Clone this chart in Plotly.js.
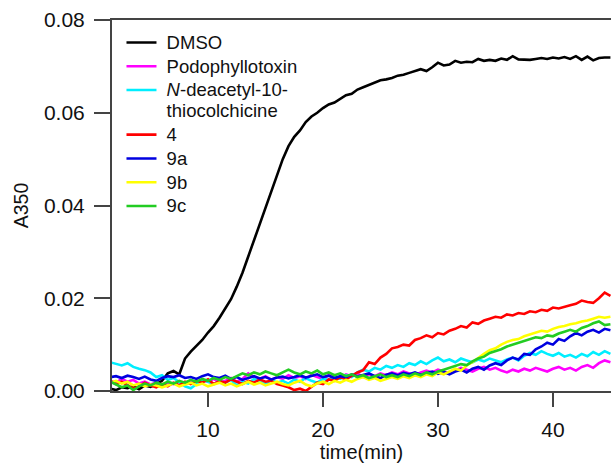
<!DOCTYPE html>
<html>
<head>
<meta charset="utf-8">
<script src="https://cdn.plot.ly/plotly-3.0.1.min.js"></script>
<style>html,body{margin:0;padding:0;background:#fff;}#chart{width:611px;height:463px;}</style>
</head>
<body>
<div id="chart"></div>
<script>
var time = [1.5,2,2.5,3,3.5,4,4.5,5,5.5,6,
  6.5,7,7.5,8,8.5,9,9.5,10,10.5,11,
  11.5,12,12.5,13,13.5,14,14.5,15,15.5,16,
  16.5,17,17.5,18,18.5,19,19.5,20,20.5,21,
  21.5,22,22.5,23,23.5,24,24.5,25,25.5,26,
  26.5,27,27.5,28,28.5,29,29.5,30,30.5,31,
  31.5,32,32.5,33,33.5,34,34.5,35,35.5,36,
  36.5,37,37.5,38,38.5,39,39.5,40,40.5,41,
  41.5,42,42.5,43,43.5,44,44.5,45];

var dmso = [0.0005,0.0002,0.0008,0.0006,0.0010,0.0004,0.0012,0.0009,0.0015,0.0022,
  0.0038,0.0043,0.0036,0.0070,0.0085,0.0098,0.0110,0.0126,0.0140,0.0158,
  0.0178,0.0198,0.0225,0.0255,0.0290,0.0325,0.0360,0.0398,0.0432,0.0468,
  0.0500,0.0528,0.0548,0.0562,0.0580,0.0592,0.0600,0.0610,0.0618,0.0622,
  0.0630,0.0638,0.0641,0.0650,0.0655,0.0660,0.0664,0.0670,0.0672,0.0675,
  0.0680,0.0682,0.0686,0.0690,0.0694,0.0690,0.0698,0.0708,0.0702,0.0704,
  0.0712,0.0708,0.0710,0.0709,0.0716,0.0712,0.0714,0.0712,0.0717,0.0714,
  0.0722,0.0715,0.0714,0.0714,0.0716,0.0718,0.0716,0.0719,0.0717,0.0720,
  0.0716,0.0722,0.0714,0.0721,0.0713,0.0718,0.0719,0.0719];

var podophyllotoxin = [0.0022,0.0018,0.0026,0.0020,0.0024,0.0016,0.0020,0.0014,0.0018,0.0012,
  0.0018,0.0015,0.0020,0.0016,0.0022,0.0018,0.0024,0.0020,0.0026,0.0018,
  0.0022,0.0028,0.0020,0.0026,0.0038,0.0030,0.0026,0.0032,0.0024,0.0030,
  0.0026,0.0034,0.0028,0.0032,0.0026,0.0035,0.0030,0.0026,0.0034,0.0030,
  0.0028,0.0036,0.0032,0.0038,0.0030,0.0036,0.0032,0.0038,0.0034,0.0040,
  0.0036,0.0042,0.0038,0.0034,0.0040,0.0044,0.0040,0.0046,0.0042,0.0038,
  0.0044,0.0050,0.0046,0.0042,0.0048,0.0052,0.0046,0.0050,0.0044,0.0040,
  0.0046,0.0042,0.0048,0.0044,0.0050,0.0046,0.0042,0.0048,0.0052,0.0046,
  0.0050,0.0044,0.0052,0.0056,0.0050,0.0060,0.0066,0.0062];

var thiocolchicine = [0.0062,0.0058,0.0055,0.0060,0.0052,0.0048,0.0045,0.0040,0.0030,0.0034,
  0.0024,0.0028,0.0018,0.0010,0.0006,0.0016,0.0024,0.0020,0.0015,0.0022,
  0.0018,0.0024,0.0012,0.0020,0.0016,0.0026,0.0020,0.0015,0.0024,0.0018,
  0.0022,0.0016,0.0025,0.0020,0.0028,0.0022,0.0018,0.0026,0.0024,0.0030,
  0.0026,0.0034,0.0030,0.0040,0.0046,0.0042,0.0050,0.0046,0.0054,0.0050,
  0.0056,0.0052,0.0060,0.0056,0.0064,0.0058,0.0066,0.0072,0.0064,0.0068,
  0.0062,0.0070,0.0066,0.0062,0.0068,0.0064,0.0070,0.0066,0.0062,0.0068,
  0.0072,0.0066,0.0076,0.0082,0.0078,0.0086,0.0080,0.0076,0.0082,0.0074,
  0.0078,0.0072,0.0080,0.0075,0.0084,0.0078,0.0086,0.0080];

var c4 = [0.0022,0.0015,0.0020,0.0012,0.0005,0.0010,0.0018,0.0012,0.0008,0.0015,
  0.0010,0.0018,0.0012,0.0020,0.0015,0.0022,0.0018,0.0025,0.0015,0.0022,
  0.0018,0.0025,0.0020,0.0015,0.0022,0.0018,0.0025,0.0020,0.0022,0.0015,
  0.0012,0.0008,0.0002,0.0005,0.0000,0.0010,0.0018,0.0015,0.0025,0.0022,
  0.0030,0.0025,0.0032,0.0040,0.0045,0.0062,0.0058,0.0072,0.0080,0.0092,
  0.0095,0.0100,0.0098,0.0110,0.0114,0.0120,0.0116,0.0125,0.0122,0.0130,
  0.0134,0.0140,0.0137,0.0148,0.0145,0.0152,0.0156,0.0160,0.0158,0.0165,
  0.0163,0.0168,0.0166,0.0172,0.0170,0.0175,0.0173,0.0180,0.0178,0.0182,
  0.0185,0.0188,0.0195,0.0192,0.0190,0.0200,0.0212,0.0205];

var c9a = [0.0030,0.0032,0.0028,0.0033,0.0030,0.0026,0.0031,0.0025,0.0022,0.0028,
  0.0032,0.0030,0.0034,0.0028,0.0030,0.0026,0.0032,0.0036,0.0030,0.0028,
  0.0033,0.0026,0.0030,0.0024,0.0028,0.0032,0.0027,0.0030,0.0025,0.0029,
  0.0031,0.0027,0.0030,0.0034,0.0029,0.0032,0.0036,0.0030,0.0033,0.0028,
  0.0032,0.0030,0.0036,0.0031,0.0034,0.0038,0.0032,0.0028,0.0035,0.0038,
  0.0034,0.0039,0.0036,0.0040,0.0035,0.0038,0.0042,0.0037,0.0041,0.0036,
  0.0042,0.0046,0.0040,0.0048,0.0052,0.0046,0.0055,0.0060,0.0056,0.0066,
  0.0072,0.0068,0.0080,0.0078,0.0090,0.0096,0.0104,0.0100,0.0112,0.0108,
  0.0118,0.0125,0.0120,0.0128,0.0132,0.0126,0.0134,0.0131];

var c9b = [0.0018,0.0022,0.0016,0.0020,0.0012,0.0016,0.0010,0.0014,0.0012,0.0008,
  0.0012,0.0016,0.0010,0.0014,0.0018,0.0012,0.0016,0.0010,0.0014,0.0018,
  0.0012,0.0016,0.0010,0.0015,0.0020,0.0014,0.0018,0.0012,0.0016,0.0020,
  0.0015,0.0012,0.0018,0.0022,0.0014,0.0010,0.0016,0.0020,0.0015,0.0022,
  0.0018,0.0024,0.0020,0.0026,0.0030,0.0024,0.0028,0.0022,0.0026,0.0030,
  0.0026,0.0032,0.0028,0.0034,0.0030,0.0036,0.0032,0.0040,0.0036,0.0042,
  0.0048,0.0044,0.0055,0.0062,0.0072,0.0080,0.0088,0.0092,0.0100,0.0106,
  0.0110,0.0112,0.0118,0.0122,0.0125,0.0130,0.0128,0.0134,0.0138,0.0140,
  0.0144,0.0146,0.0150,0.0152,0.0156,0.0160,0.0158,0.0160];

var c9c = [0.0020,0.0014,0.0008,0.0012,0.0002,0.0010,0.0016,0.0012,0.0018,0.0014,
  0.0020,0.0016,0.0022,0.0018,0.0024,0.0020,0.0026,0.0022,0.0028,0.0024,
  0.0030,0.0026,0.0032,0.0038,0.0034,0.0040,0.0036,0.0042,0.0038,0.0034,
  0.0040,0.0046,0.0040,0.0036,0.0042,0.0038,0.0044,0.0036,0.0040,0.0034,
  0.0038,0.0032,0.0036,0.0030,0.0034,0.0028,0.0032,0.0036,0.0030,0.0034,
  0.0030,0.0036,0.0032,0.0038,0.0034,0.0040,0.0036,0.0042,0.0046,0.0050,
  0.0054,0.0058,0.0056,0.0064,0.0070,0.0074,0.0082,0.0086,0.0090,0.0096,
  0.0100,0.0104,0.0108,0.0112,0.0116,0.0114,0.0120,0.0118,0.0124,0.0128,
  0.0132,0.0128,0.0136,0.0140,0.0146,0.0150,0.0142,0.0144];

var seriesNames = ['DMSO', 'Podophyllotoxin', '<i>N</i>-deacetyl-10-<br>thiocolchicine', '4', '9a', '9b', '9c'];
var seriesData = [dmso, podophyllotoxin, thiocolchicine, c4, c9a, c9b, c9c];
var seriesColors = ['#000000', '#ff00ff', '#00eeff', '#ff0000', '#0000e0', '#ffff00', '#22cc22'];

var xTicks = [10, 20, 30, 40];
var yTicks = [0, 0.02, 0.04, 0.06, 0.08];

function legendLabel(name) {
  return name.split('<br>').map(function (part) {
    return '<span style="font-size:18.5px">\u00a0' + part + '</span>';
  }).join('<br>');
}

var traces = seriesData.map(function (d, i) {
  return {
    x: time, y: d, type: 'scatter', mode: 'lines', name: legendLabel(seriesNames[i]),
    line: {color: seriesColors[i], width: 2.6}
  };
});

var font = 'Arial, "Liberation Sans", sans-serif';
var layout = {
  width: 611, height: 463,
  margin: {l: 112, r: 0, t: 20, b: 72},
  paper_bgcolor: '#fff', plot_bgcolor: '#fff',
  font: {family: font, size: 17, color: '#111'},
  showlegend: true,
  legend: {x: 0.019, y: 0.985, xanchor: 'left', yanchor: 'top', bgcolor: 'rgba(0,0,0,0)',
    font: {family: font, size: 16, color: '#111'}, valign: 'top', tracegroupgap: 0, itemwidth: 30},
  xaxis: {
    range: [1.65, 45.05], tickvals: xTicks, ticktext: xTicks.map(String),
    showgrid: false, zeroline: false, showline: true, mirror: true, linecolor: '#444', linewidth: 2,
    ticks: 'outside', ticklen: 14, tickwidth: 2, tickcolor: '#444', ticklabelstandoff: 5,
    tickfont: {family: font, size: 21, color: '#111'},
    title: {text: 'time(min)', font: {family: font, size: 20, color: '#111'}, standoff: 4}
  },
  yaxis: {
    range: [0, 0.08], tickvals: yTicks, ticktext: yTicks.map(function (v) { return v.toFixed(2); }),
    showgrid: false, zeroline: false, showline: true, mirror: false, linecolor: '#444', linewidth: 2,
    ticks: 'outside', ticklen: 16, tickwidth: 2, tickcolor: '#444', ticklabelstandoff: 5,
    tickfont: {family: font, size: 21, color: '#111'},
    title: {text: 'A350', font: {family: font, size: 19.5, color: '#111'}, standoff: 10}
  }
};

Plotly.newPlot('chart', traces, layout, {staticPlot: true, displayModeBar: false});
</script>
</body>
</html>
